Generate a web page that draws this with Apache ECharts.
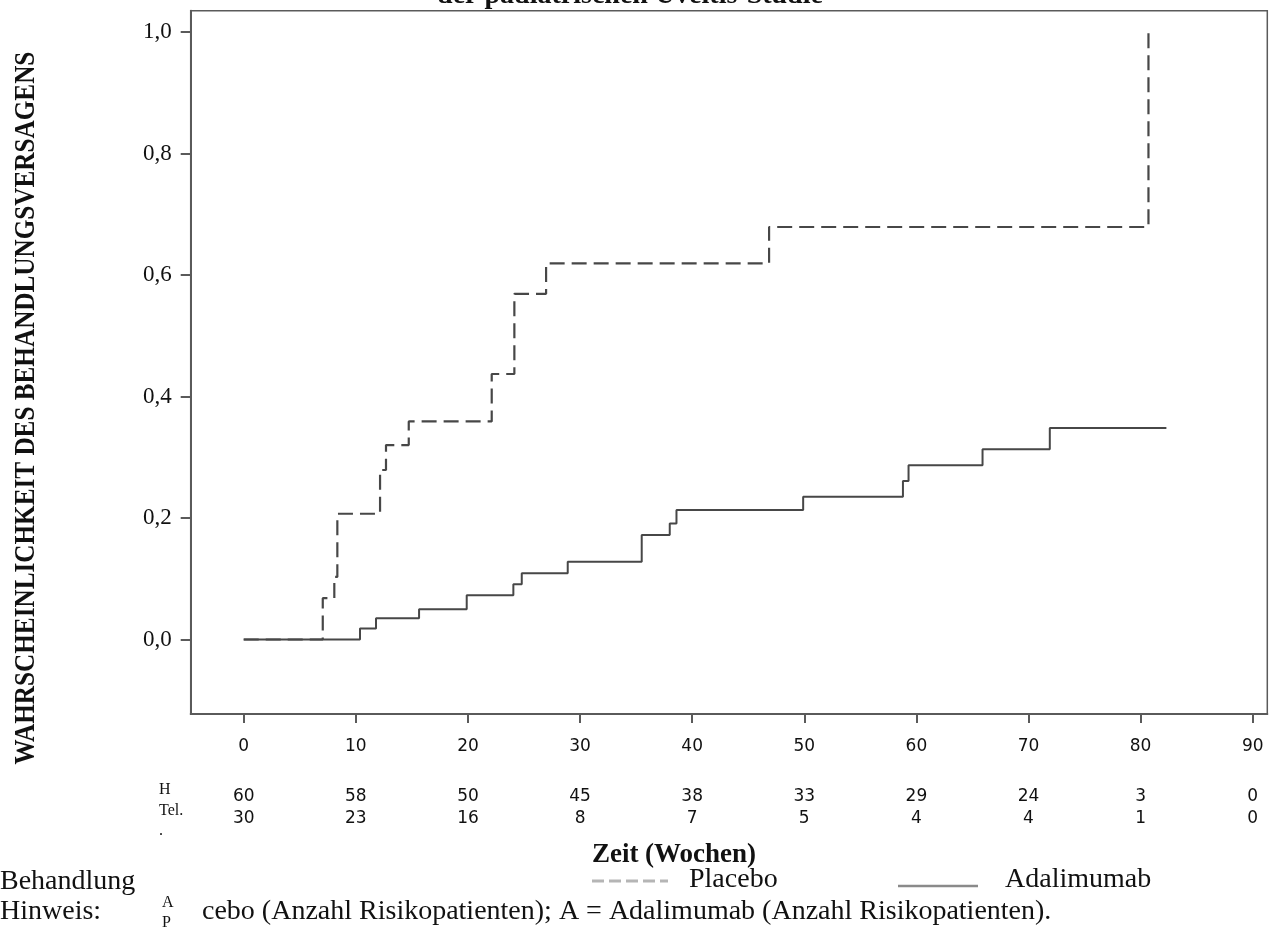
<!DOCTYPE html>
<html><head><meta charset="utf-8">
<script src="https://cdn.jsdelivr.net/npm/echarts@6/dist/echarts.min.js"></script>
<style>html,body{margin:0;padding:0;background:#fff;overflow:hidden}#c{width:1271px;height:940px}</style>
</head><body><div id="c"></div>
<script>
// ---- data ----
const placeboTimes  = [0, 7.05, 8.08, 8.35, 12.16, 12.69, 14.72, 22.12, 24.14, 26.97, 46.86, 80.7];
const placeboValues = [0, 0.068, 0.103, 0.207, 0.279, 0.320, 0.359, 0.437, 0.569, 0.619, 0.679, 1.0];
const adaTimes  = [0, 10.37, 11.80, 15.64, 19.89, 24.05, 24.8, 28.9, 35.5, 38.0, 38.6, 49.9, 58.8, 59.3, 65.9, 71.9, 82.3];
const adaValues = [0, 0.018, 0.035, 0.050, 0.073, 0.091, 0.109, 0.128, 0.172, 0.191, 0.213, 0.235, 0.261, 0.287, 0.313, 0.348, 0.348];
const xTicks = [0, 10, 20, 30, 40, 50, 60, 70, 80, 90];
const yTicks = [0, 0.2, 0.4, 0.6, 0.8, 1.0];
const riskRowH   = [60, 58, 50, 45, 38, 33, 29, 24, 3, 0];
const riskRowTel = [30, 23, 16, 8, 7, 5, 4, 4, 1, 0];
const titleText = 'der pädiatrischen Uveitis-Studie';
const yName = 'WAHRSCHEINLICHKEIT DES BEHANDLUNGSVERSAGENS';
const xName = 'Zeit (Wochen)';
const seriesNames = ['Placebo', 'Adalimumab'];

const SERIF = '"Liberation Serif", "Times New Roman", serif';
const SANS = '"DejaVu Sans", Verdana, sans-serif';
const X_MIN = -4.73, X_MAX = 91.3, Y_MIN = -0.1226, Y_MAX = 1.035;

const chart = echarts.init(document.getElementById('c'), null, {renderer: 'canvas'});
const lineColor = '#474747';
const axisColor = '#5a5a5a';
const BIG = '28px ' + SERIF;

function riskAxis(row, offset) {
  return {
    type: 'value', gridIndex: 0, position: 'bottom', offset: offset,
    min: X_MIN, max: X_MAX,
    axisLine: {show: false}, axisTick: {show: false}, splitLine: {show: false},
    axisLabel: {
      customValues: xTicks, margin: 0, color: '#111',
      fontFamily: SANS, fontSize: 17,
      formatter: v => String(row[xTicks.indexOf(Math.round(v))])
    }
  };
}

const option = {
  backgroundColor: '#fff',
  animation: false,
  grid: {left: 190.7, top: 10.7, right: 3.7, bottom: 226, show: true, borderColor: axisColor, borderWidth: 1.5, backgroundColor: 'transparent'},
  xAxis: [
    {
      type: 'value', min: X_MIN, max: X_MAX,
      axisLine: {show: true, onZero: false, lineStyle: {color: axisColor, width: 2}},
      axisTick: {show: true, customValues: xTicks, length: 9, lineStyle: {color: axisColor, width: 2}},
      axisLabel: {customValues: xTicks, margin: 24, color: '#111', fontFamily: SANS, fontSize: 17},
      splitLine: {show: false}
    },
    riskAxis(riskRowH, 74),
    riskAxis(riskRowTel, 96)
  ],
  yAxis: {
    type: 'value', min: Y_MIN, max: Y_MAX,
    axisLine: {show: true, onZero: false, lineStyle: {color: axisColor, width: 2}},
    axisTick: {show: true, customValues: yTicks, length: 10, lineStyle: {color: axisColor, width: 2}},
    axisLabel: {customValues: yTicks, margin: 19, color: '#111', fontFamily: SERIF, fontSize: 23,
      formatter: v => v.toFixed(1).replace('.', ',')},
    splitLine: {show: false}
  },
  series: [
    {
      name: seriesNames[0], type: 'line', step: 'end', symbol: 'none', xAxisIndex: 0, yAxisIndex: 0,
      data: placeboTimes.map((t, i) => [t, placeboValues[i]]),
      lineStyle: {color: lineColor, width: 2.2, type: [15, 7]}
    },
    {
      name: seriesNames[1], type: 'line', step: 'end', symbol: 'none', xAxisIndex: 0, yAxisIndex: 0,
      data: adaTimes.map((t, i) => [t, adaValues[i]]),
      lineStyle: {color: lineColor, width: 2}
    }
  ],
  graphic: [
    {type: 'text', x: 630, y: -4, style: {text: titleText, font: 'bold 28px ' + SERIF, fill: '#111', textAlign: 'center', textVerticalAlign: 'middle'}},
    {type: 'text', x: 26, y: 408, rotation: Math.PI / 2, scaleX: 0.84, scaleY: 1,
      style: {text: yName, font: 'bold 30px ' + SERIF, fill: '#111', textAlign: 'center', textVerticalAlign: 'middle'}},
    {type: 'text', x: 159, y: 790, style: {text: 'H', font: '16px ' + SERIF, fill: '#111', textAlign: 'left', textVerticalAlign: 'middle'}},
    {type: 'text', x: 159, y: 811, style: {text: 'Tel.', font: '16px ' + SERIF, fill: '#111', textAlign: 'left', textVerticalAlign: 'middle'}},
    {type: 'text', x: 159, y: 831, style: {text: '.', font: '16px ' + SERIF, fill: '#111', textAlign: 'left', textVerticalAlign: 'middle'}},
    {type: 'text', x: 674, y: 855, style: {text: xName, font: 'bold 27px ' + SERIF, fill: '#111', textAlign: 'center', textVerticalAlign: 'middle'}},
    {type: 'text', x: 0, y: 882, style: {text: 'Behandlung', font: BIG, fill: '#111', textAlign: 'left', textVerticalAlign: 'middle'}},
    {type: 'line', shape: {x1: 592, y1: 881, x2: 668, y2: 881}, style: {stroke: '#b5b5b5', lineWidth: 3, lineDash: [12, 5]}},
    {type: 'text', x: 689, y: 880, style: {text: seriesNames[0], font: BIG, fill: '#111', textAlign: 'left', textVerticalAlign: 'middle'}},
    {type: 'line', shape: {x1: 898, y1: 886, x2: 978, y2: 886}, style: {stroke: '#8a8a8a', lineWidth: 2.5}},
    {type: 'text', x: 1005, y: 880, style: {text: seriesNames[1], font: BIG, fill: '#111', textAlign: 'left', textVerticalAlign: 'middle'}},
    {type: 'text', x: 0, y: 912, style: {text: 'Hinweis:', font: BIG, fill: '#111', textAlign: 'left', textVerticalAlign: 'middle'}},
    {type: 'text', x: 162, y: 903, style: {text: 'A', font: '16px ' + SERIF, fill: '#111', textAlign: 'left', textVerticalAlign: 'middle'}},
    {type: 'text', x: 162, y: 923, style: {text: 'P', font: '16px ' + SERIF, fill: '#111', textAlign: 'left', textVerticalAlign: 'middle'}},
    {type: 'text', x: 202, y: 912, style: {text: 'cebo (Anzahl Risikopatienten); A = Adalimumab (Anzahl Risikopatienten).', font: BIG, fill: '#111', textAlign: 'left', textVerticalAlign: 'middle'}}
  ]
};
chart.setOption(option);
</script></body></html>
